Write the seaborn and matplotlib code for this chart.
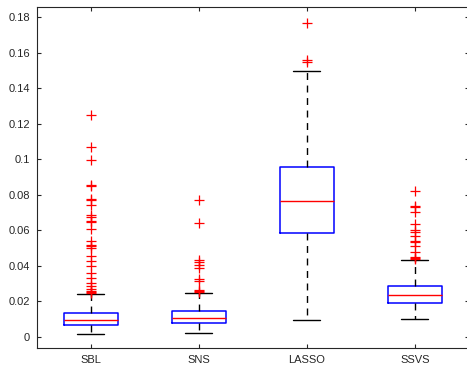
import seaborn as sns
import matplotlib
matplotlib.use("Agg")
import matplotlib.pyplot as plt

# method names
methods = ["SBL", "SNS", "LASSO", "SSVS"]

# box statistics
medians = [0.0094, 0.0107, 0.0762, 0.0237]
q1 = [0.0068, 0.0079, 0.0585, 0.0192]
q3 = [0.0137, 0.0147, 0.0955, 0.0288]
whis_lo = [0.0019, 0.0024, 0.0096, 0.0102]
whis_hi = [0.0241, 0.0250, 0.1497, 0.0431]

# outliers
fliers_sbl = [0.1247, 0.1068, 0.0993, 0.0856, 0.0850, 0.0777, 0.0770, 0.0741,
              0.0688, 0.0673, 0.0651, 0.0645, 0.0608, 0.0542, 0.0520, 0.0510,
              0.0500, 0.0457, 0.0425, 0.0397, 0.0359, 0.0329, 0.0306, 0.0286,
              0.0267, 0.0260, 0.0255, 0.0250]
fliers_sns = [0.0769, 0.0643, 0.0433, 0.0419, 0.0406, 0.0388, 0.0326, 0.0312,
              0.0265, 0.0260, 0.0255]
fliers_lasso = [0.1768, 0.1558, 0.1546]
fliers_ssvs = [0.0820, 0.0739, 0.0730, 0.0701, 0.0636, 0.0602, 0.0589, 0.0570,
               0.0542, 0.0532, 0.0514, 0.0480, 0.0451, 0.0444, 0.0438]
fliers = [fliers_sbl, fliers_sns, fliers_lasso, fliers_ssvs]

sns.set_style("white")
plt.rcParams['font.family'] = ['Liberation Sans', 'DejaVu Sans']

stats = []
for i, m in enumerate(methods):
    stats.append({"label": m, "med": medians[i], "q1": q1[i], "q3": q3[i],
                  "whislo": whis_lo[i], "whishi": whis_hi[i], "fliers": fliers[i]})

fig = plt.figure(figsize=(4.67, 3.69), dpi=100)
ax = fig.add_axes([0.079, 0.057, 0.925, 0.924])

ax.bxp(stats, positions=[1, 2, 3, 4], widths=0.5, showfliers=True,
       boxprops=dict(color="#0000ff", linewidth=1.1),
       medianprops=dict(color="#ff0000", linewidth=1.0),
       whiskerprops=dict(color="black", linewidth=1.0, linestyle=(0, (5, 4))),
       capprops=dict(color="black", linewidth=1.0),
       flierprops=dict(marker="+", markeredgecolor="red", markersize=7,
                       markeredgewidth=0.9, linestyle="none"),
       capwidths=0.25)

ax.set_xlim(0.5, 4.5)
ax.set_ylim(-0.0062, 0.1856)
ax.set_yticks([0, 0.02, 0.04, 0.06, 0.08, 0.1, 0.12, 0.14, 0.16, 0.18])
ax.set_yticklabels(["0", "0.02", "0.04", "0.06", "0.08", "0.1", "0.12",
                    "0.14", "0.16", "0.18"])
ax.set_xticks([1, 2, 3, 4])
ax.set_xticklabels(methods)

for s in ax.spines.values():
    s.set_visible(True)
    s.set_color("#262626")
    s.set_linewidth(0.8)
ax.tick_params(direction="in", length=3, width=0.8, color="#262626",
               labelsize=8, labelcolor="#262626", top=True, right=True,
               left=True, bottom=True, pad=5)

fig.savefig("out.png", dpi=100)
